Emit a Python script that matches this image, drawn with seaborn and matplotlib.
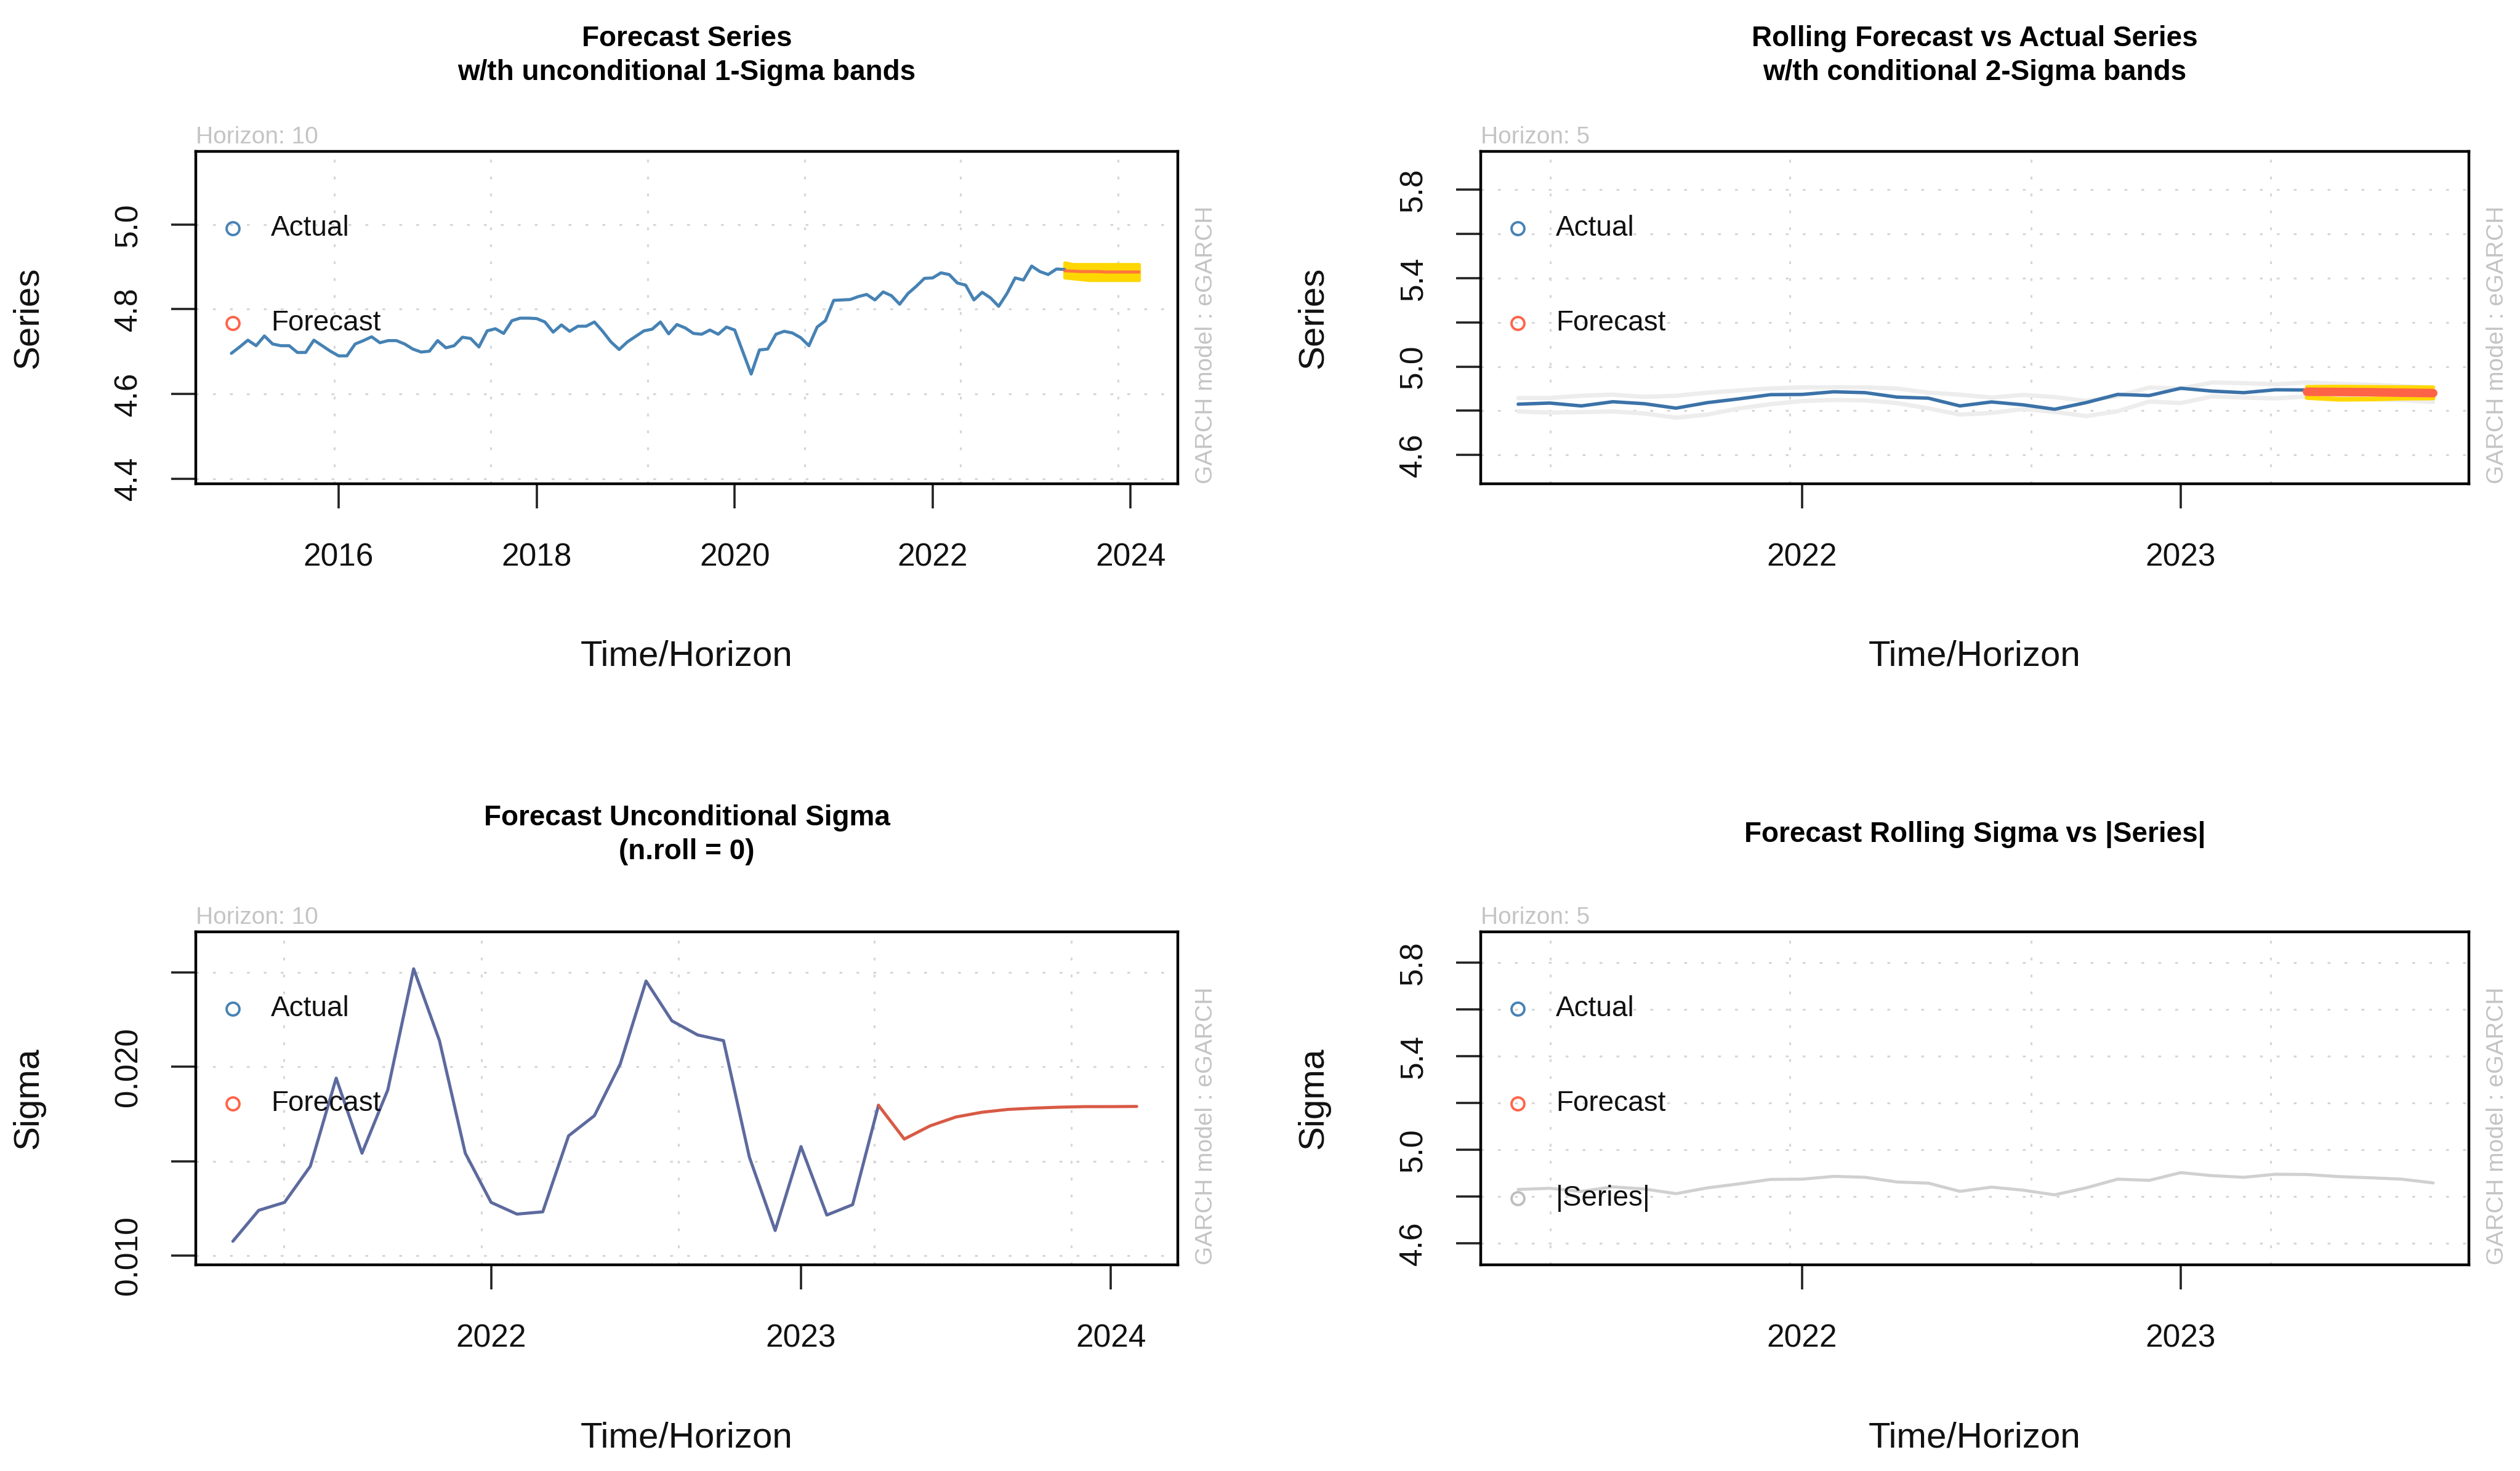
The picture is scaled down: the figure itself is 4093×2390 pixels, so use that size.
import numpy as np
import pandas as pd
import matplotlib
matplotlib.use("Agg")
import matplotlib.pyplot as plt
import seaborn as sns

# ===============================
# DATA
# ===============================

# monthly series, Dec 2014 .. Sep 2023
series_start = "2014-12-01"
series_values = [
    4.696, 4.711, 4.727, 4.714, 4.737, 4.718, 4.714, 4.714, 4.698, 4.698,
    4.727, 4.714, 4.701, 4.690, 4.690, 4.718, 4.726, 4.735, 4.721, 4.726,
    4.726, 4.718, 4.706, 4.699, 4.701, 4.726, 4.709, 4.714, 4.734, 4.731,
    4.711, 4.749, 4.754, 4.743, 4.773, 4.779, 4.779, 4.778, 4.770, 4.746,
    4.763, 4.748, 4.760, 4.760, 4.770, 4.748, 4.723, 4.705, 4.723, 4.736,
    4.749, 4.753, 4.770, 4.742, 4.764, 4.756, 4.743, 4.741,
    4.751, 4.741, 4.758, 4.751, 4.699, 4.647, 4.704, 4.706, 4.741, 4.748,
    4.744, 4.733, 4.714, 4.758, 4.773, 4.821, 4.822, 4.823, 4.830, 4.835,
    4.822, 4.841, 4.832, 4.812, 4.837, 4.854, 4.873, 4.874, 4.886, 4.882,
    4.862, 4.857, 4.822, 4.840, 4.827, 4.807, 4.837, 4.874, 4.869, 4.902,
    4.889, 4.882, 4.895, 4.894,
    4.885, 4.880, 4.874, 4.858,
]
n_fit = 102            # fitted part ends May 2023

# panel 1: unconditional forecast, May 2023 .. Feb 2024
fc_start = "2023-05-01"
fc_mean = [4.891, 4.890, 4.889, 4.889, 4.889, 4.888, 4.888, 4.888, 4.888, 4.888]
fc_upper = [4.910, 4.906, 4.906, 4.906, 4.906, 4.906, 4.906, 4.906, 4.906, 4.906]
fc_lower = [4.875, 4.873, 4.871, 4.869, 4.869, 4.869, 4.869, 4.869, 4.869, 4.869]

# panel 2: rolling window, Apr 2021 .. Sep 2023
roll_start = "2021-04-01"
roll_offset = 76
roll_upper = [4.858, 4.858, 4.868, 4.873, 4.863, 4.868, 4.882, 4.892, 4.901, 4.906,
              4.906, 4.906, 4.901, 4.882, 4.873, 4.860, 4.872, 4.862, 4.845, 4.866,
              4.905, 4.900, 4.928, 4.925, 4.920, 4.928, 4.922, 4.918, 4.912, 4.905]
roll_lower = [4.797, 4.792, 4.794, 4.797, 4.788, 4.769, 4.783, 4.811, 4.830, 4.844,
              4.849, 4.847, 4.835, 4.811, 4.783, 4.790, 4.808, 4.795, 4.776, 4.798,
              4.842, 4.835, 4.865, 4.860, 4.856, 4.865, 4.858, 4.853, 4.848, 4.840]
roll_fc_start = "2023-05-01"
roll_fc = [4.886, 4.885, 4.884, 4.882, 4.880]
roll_fc_upper = [4.908, 4.909, 4.908, 4.907, 4.906]
roll_fc_lower = [4.860, 4.852, 4.853, 4.857, 4.858]

# panel 3: sigma, Mar 2021 .. Apr 2023, forecast May 2023 .. Feb 2024
sigma_start = "2021-03-01"
sigma_fit = [0.01075, 0.01239, 0.01281, 0.01473, 0.01940, 0.01542, 0.01878, 0.02520,
             0.02139, 0.01542, 0.01281, 0.01219, 0.01231, 0.01634, 0.01741, 0.02015,
             0.02455, 0.02244, 0.02169, 0.02139, 0.01522, 0.01132, 0.01577, 0.01214,
             0.01269, 0.01796]
sigma_fc_start = "2023-05-01"
sigma_fc = [0.01617, 0.01687, 0.01734, 0.01759, 0.01774, 0.01781, 0.01786, 0.01789,
            0.01789, 0.01790]


def dec_years(start, n):
    d = pd.date_range(start, periods=n, freq="MS")
    return np.asarray(d.year + (d.month - 1) / 12.0)


# ===============================
# STYLE
# ===============================

sns.set_theme(style="white")
plt.rcParams["font.family"] = ["Liberation Sans", "DejaVu Sans"]

W, H = 4093, 2390
BLUE = "#4682B4"
RED = "#FF6347"
GRID = "#D6D6D6"
FAINT = "#C4C4C4"

fig = plt.figure(figsize=(W / 100, H / 100), dpi=100)
fig.patch.set_facecolor("white")


def make_axes(box):
    l, t, r, b = box
    return fig.add_axes([l / W, 1 - b / H, (r - l) / W, (b - t) / H])


def decorate(ax, box, xlim, ylim, xticks, yticks, ylabels, xgrid, titles,
             horizon, ylabel, legend, title_base):
    l, t, r, b = box
    bw, bh = r - l, b - t
    ax.set_xlim(*xlim)
    ax.set_ylim(*ylim)
    ax.set_facecolor("white")
    for s in ax.spines.values():
        s.set_visible(True)
        s.set_color("black")
        s.set_linewidth(3.2)
    ax.set_xticks(xticks, labels=[str(x) for x in xticks])
    ax.set_yticks(yticks, labels=ylabels)
    ax.tick_params(axis="both", direction="out", length=29, width=2.6,
                   color="#222222", labelsize=37, labelcolor="#111111")
    ax.tick_params(axis="x", pad=40, bottom=True)
    ax.tick_params(axis="y", pad=32, left=True, labelrotation=90)
    for lab in ax.get_yticklabels():
        lab.set_va("center")
    ax.set_xlabel("")
    ax.set_ylabel("")

    # dotted grid
    for g in xgrid:
        ax.axvline(g, color=GRID, lw=2.2, ls=(0, (1.5, 7.5)), zorder=0)
    for g in yticks:
        ax.axhline(g, color=GRID, lw=2.2, ls=(0, (1.5, 7.5)), zorder=0)

    # titles
    cx = (l + r) / 2
    for i, line in enumerate(titles):
        fig.text(cx / W, 1 - (title_base + 55 * i) / H, line, ha="center",
                 va="baseline", fontsize=33, fontweight="bold", color="black")
    fig.text(cx / W, 1 - (b + 281) / H, "Time/Horizon", ha="center",
             va="center", fontsize=42, color="#111111")
    fig.text((l - 272) / W, 1 - (t + b) / 2 / H, ylabel, ha="center",
             va="center", rotation=90, fontsize=42, color="#111111")

    ax.text(0, 1 + 13 / bh, horizon, transform=ax.transAxes, ha="left",
            va="baseline", fontsize=28, color=FAINT)
    ax.text(1 + 46 / bw, 0, "GARCH model : eGARCH", transform=ax.transAxes,
            rotation=90, ha="center", va="bottom", fontsize=28, color=FAINT)

    # legend drawn by hand (R style: open circles, no frame)
    for i, (name, col) in enumerate(legend):
        ya = 1 - (125 + 154 * i) / bh
        ax.plot([60 / bw], [ya], transform=ax.transAxes, marker="o", ms=15,
                mfc="none", mec=col, mew=2.8, clip_on=False, zorder=6)
        ax.text(122 / bw, ya, name, transform=ax.transAxes, ha="left",
                va="center", fontsize=33, color="#111111", zorder=6)


x_all = dec_years(series_start, len(series_values))
y_all = np.array(series_values)

# ===============================
# PANEL 1 - Forecast Series
# ===============================

box1 = (318, 246, 1913, 786)
ax1 = make_axes(box1)
x_fc = dec_years(fc_start, len(fc_mean))
ax1.fill_between(x_fc, fc_lower, fc_upper, color="#FFD700", edgecolor="#FFD700",
                 lw=4, zorder=3)
sns.lineplot(x=x_all[:n_fit], y=y_all[:n_fit], ax=ax1, color=BLUE, lw=3.6,
             zorder=4)
sns.lineplot(x=x_fc, y=fc_mean, ax=ax1, color=RED, lw=3.6, alpha=0.85, zorder=5)
decorate(ax1, box1, (2014.557, 2024.476), (4.388, 5.1727),
         [2016, 2018, 2020, 2022, 2024], [4.4, 4.6, 4.8, 5.0],
         ["4.4", "4.6", "4.8", "5.0"],
         [2015.954, 2017.535, 2019.12, 2020.706, 2022.278, 2023.874],
         ["Forecast Series", "w/th unconditional 1-Sigma bands"],
         "Horizon: 10", "Series", [("Actual", BLUE), ("Forecast", RED)], 75)

# ===============================
# PANEL 2 - Rolling Forecast vs Actual
# ===============================

box2 = (2405, 246, 4010, 786)
ax2 = make_axes(box2)
x_roll = dec_years(roll_start, len(roll_upper))
y_roll = y_all[roll_offset:roll_offset + len(roll_upper)]
sns.lineplot(x=x_roll, y=roll_upper, ax=ax2, color="#EDEDED", lw=5, zorder=2)
sns.lineplot(x=x_roll, y=roll_lower, ax=ax2, color="#EDEDED", lw=5, zorder=2)
sns.lineplot(x=x_roll, y=y_roll, ax=ax2, color="#3B72A8", lw=4, zorder=3)
x_rfc = dec_years(roll_fc_start, len(roll_fc))
sns.lineplot(x=x_rfc, y=roll_fc_upper, ax=ax2, color="#FFD700", lw=4.5, zorder=4)
sns.lineplot(x=x_rfc, y=roll_fc_lower, ax=ax2, color="#FFD700", lw=5.5, zorder=4)
sns.lineplot(x=x_rfc, y=roll_fc, ax=ax2, color=RED, lw=10, zorder=5)
yt = [4.6, 4.8, 5.0, 5.2, 5.4, 5.6, 5.8]
yl = ["4.6", "", "5.0", "", "5.4", "", "5.8"]
decorate(ax2, box2, (2021.151, 2023.761), (4.470, 5.973), [2022, 2023], yt, yl,
         [2021.334, 2021.968, 2022.604, 2023.238],
         ["Rolling Forecast vs Actual Series", "w/th conditional 2-Sigma bands"],
         "Horizon: 5", "Series", [("Actual", BLUE), ("Forecast", RED)], 75)

# ===============================
# PANEL 3 - Forecast Unconditional Sigma
# ===============================

box3 = (318, 1514, 1913, 2055)
ax3 = make_axes(box3)
x_sig = dec_years(sigma_start, len(sigma_fit))
x_sfc = dec_years(sigma_fc_start, len(sigma_fc))
sns.lineplot(x=x_sig, y=sigma_fit, ax=ax3, color="#5D6A9E", lw=3.6, zorder=3)
sns.lineplot(x=np.r_[x_sig[-1], x_sfc], y=[sigma_fit[-1]] + sigma_fc, ax=ax3,
             color="#D85A45", lw=3.6, zorder=4)
decorate(ax3, box3, (2021.047, 2024.216), (0.0095, 0.02716), [2022, 2023, 2024],
         [0.010, 0.015, 0.020, 0.025], ["0.010", "", "0.020", ""],
         [2021.332, 2021.969, 2022.605, 2023.236, 2023.873],
         ["Forecast Unconditional Sigma", "(n.roll = 0)"],
         "Horizon: 10", "Sigma", [("Actual", BLUE), ("Forecast", RED)], 1341)

# ===============================
# PANEL 4 - Forecast Rolling Sigma vs |Series|
# ===============================

box4 = (2405, 1514, 4010, 2055)
ax4 = make_axes(box4)
sns.lineplot(x=x_roll, y=np.abs(y_roll), ax=ax4, color="#D0D0D0", lw=3.6, zorder=3)
decorate(ax4, box4, (2021.151, 2023.761), (4.508, 5.931), [2022, 2023], yt, yl,
         [2021.334, 2021.968, 2022.604, 2023.238],
         ["Forecast Rolling Sigma vs |Series|"],
         "Horizon: 5", "Sigma",
         [("Actual", BLUE), ("Forecast", RED), ("|Series|", "#BEBEBE")], 1368)

fig.savefig("out.png", dpi=100, facecolor="white")
print("saved out.png")
